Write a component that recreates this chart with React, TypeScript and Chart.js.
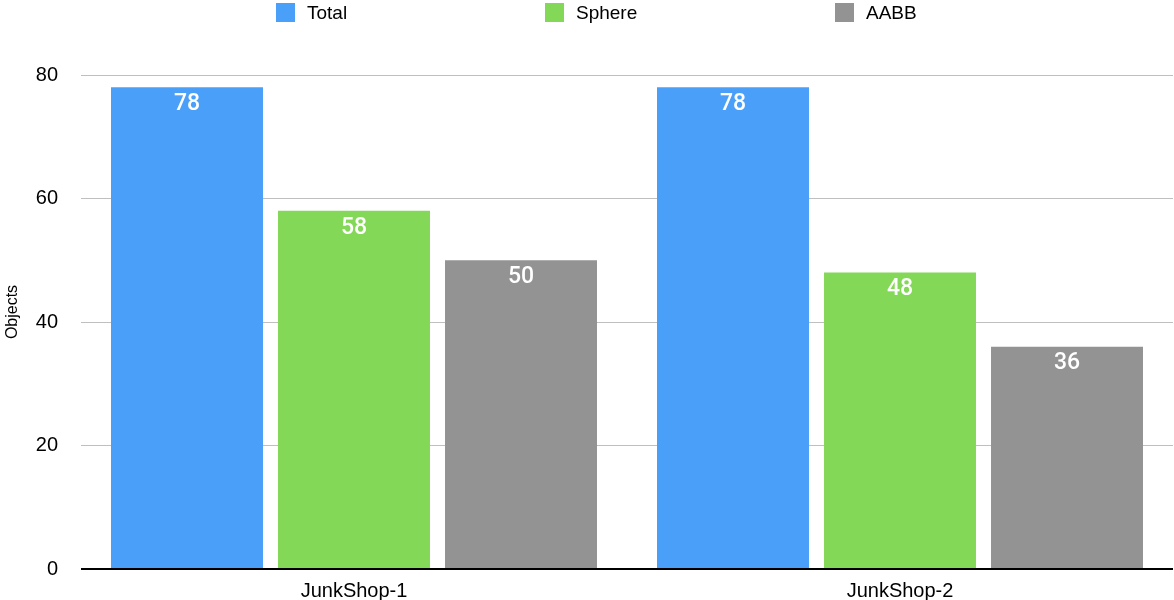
import React, { useEffect, useRef } from "react";
import { Chart, registerables } from "chart.js";

Chart.register(...registerables);

const categories = ["JunkShop-1", "JunkShop-2"];
const seriesNames = ["Total", "Sphere", "AABB"];
const totalValues = [78, 78];
const sphereValues = [58, 48];
const aabbValues = [50, 36];
const seriesColors = ["#4A9FF9", "#84D857", "#939393"];
const yTicks = [0, 20, 40, 60, 80];
const yAxisTitle = "Objects";

const FONT = "'Liberation Sans', Arial, Helvetica, sans-serif";

const valueLabelPlugin = {
  id: "valueLabels",
  afterDatasetsDraw(chart: any) {
    const ctx = chart.ctx;
    ctx.save();
    ctx.fillStyle = "#ffffff";
    ctx.font = `500 23px Roboto, ${FONT}`;
    ctx.textAlign = "center";
    ctx.textBaseline = "middle";
    chart.data.datasets.forEach((ds: any, di: number) => {
      const meta = chart.getDatasetMeta(di);
      meta.data.forEach((bar: any, i: number) => {
        ctx.fillText(String(ds.data[i]), bar.x, bar.y + 17);
      });
    });
    ctx.restore();
  },
};

const yTitlePlugin = {
  id: "yTitle",
  afterDraw(chart: any) {
    const ctx = chart.ctx;
    const area = chart.chartArea;
    ctx.save();
    ctx.translate(13, (area.top + area.bottom) / 2 - 10);
    ctx.rotate(-Math.PI / 2);
    ctx.fillStyle = "#000";
    ctx.font = `16px ${FONT}`;
    ctx.textAlign = "center";
    ctx.textBaseline = "middle";
    ctx.fillText(yAxisTitle, 0, 0);
    ctx.restore();
  },
};

export default function App() {
  const ref = useRef<HTMLCanvasElement | null>(null);

  useEffect(() => {
    document.body.style.margin = "0";
    const allValues = [totalValues, sphereValues, aabbValues];
    const chart = new Chart(ref.current as HTMLCanvasElement, {
      type: "bar",
      data: {
        labels: categories,
        datasets: seriesNames.map((name, i) => ({
          label: name,
          data: allValues[i],
          backgroundColor: seriesColors[i],
          borderWidth: 0,
          categoryPercentage: 0.9176,
          barPercentage: 0.91,
        })),
      },
      options: {
        animation: false,
        responsive: false,
        maintainAspectRatio: false,
        layout: { padding: { top: 75, right: 1, left: 0, bottom: 0 } },
        plugins: {
          legend: { display: false },
          tooltip: { enabled: false },
        },
        scales: {
          x: {
            grid: { display: false, drawTicks: false },
            border: { display: false },
            ticks: {
              color: "#000",
              font: { family: FONT, size: 20 },
              padding: 10,
              maxRotation: 0,
            },
            afterFit: (s: any) => {
              s.height = 31;
              s.paddingLeft = 0;
              s.paddingRight = 0;
            },
          },
          y: {
            min: 0,
            max: 80,
            afterBuildTicks: (s: any) => {
              s.ticks = yTicks.map((v) => ({ value: v }));
            },
            grid: {
              drawTicks: false,
              color: (c: any) => (c.tick && c.tick.value === 0 ? "#000000" : "#BFBFBF"),
              lineWidth: (c: any) => (c.tick && c.tick.value === 0 ? 2 : 1),
            },
            border: { display: false },
            ticks: {
              color: "#000",
              font: { family: FONT, size: 20 },
              padding: 23,
            },
            afterFit: (s: any) => {
              s.width = 81;
              s.paddingTop = 0;
              s.paddingBottom = 0;
            },
          },
        },
      },
      plugins: [valueLabelPlugin, yTitlePlugin],
    });
    return () => chart.destroy();
  }, []);

  const legendLefts = [276, 545, 835];

  return (
    <div style={{ position: "absolute", left: 0, top: 0, width: 1174, height: 600, background: "#fff" }}>
      <canvas ref={ref} width={1174} height={600} style={{ display: "block", width: 1174, height: 600 }} />
      {seriesNames.map((name, i) => (
        <div
          key={name}
          style={{
            position: "absolute",
            left: legendLefts[i],
            top: 3,
            height: 19,
            display: "flex",
            alignItems: "center",
            fontFamily: FONT,
            fontSize: 19,
            color: "#000",
            whiteSpace: "nowrap",
          }}
        >
          <span style={{ display: "inline-block", width: 19, height: 19, background: seriesColors[i], marginRight: 12 }} />
          <span>{name}</span>
        </div>
      ))}
    </div>
  );
}
